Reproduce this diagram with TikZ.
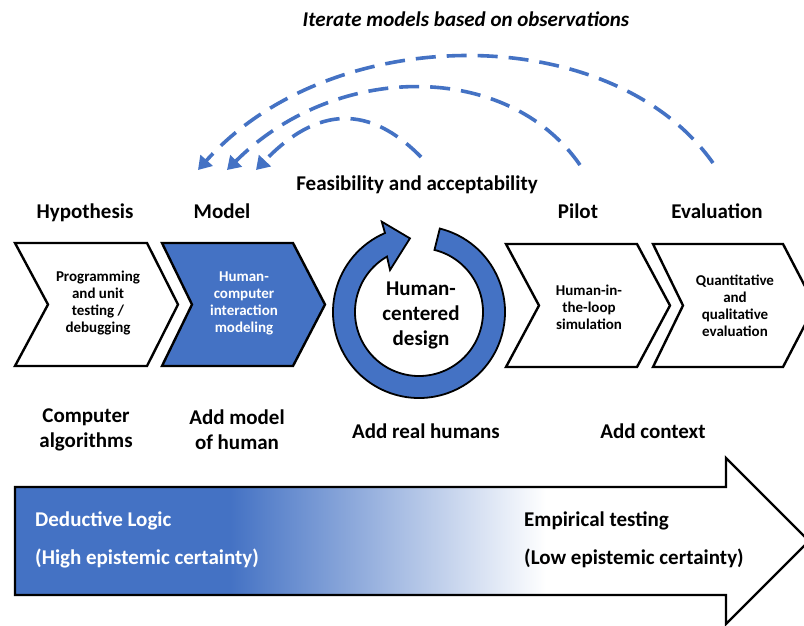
\documentclass[tikz,border=0pt]{standalone}
\usepackage{fontspec}
\setmainfont{Carlito}
\usetikzlibrary{arrows.meta}
\definecolor{hcblue}{RGB}{68,114,196}
\begin{document}
\begin{tikzpicture}[x=1pt,y=-1pt,
  chev/.style={draw=black, line width=2.4pt, line join=miter},
  lbl/.style={font=\fontsize{21}{25}\selectfont\bfseries, inner sep=0pt, align=center},
  small/.style={font=\fontsize{15}{17}\selectfont\bfseries, align=center, inner sep=0pt},
  iter/.style={draw=hcblue, line width=3.6pt, dash pattern=on 20pt off 11pt,
    -{Triangle[length=13pt,width=16pt]}},
]
\useasboundingbox (0,0) rectangle (804,625);
\fill[white] (0,0) rectangle (804,625);
\clip (0,0) rectangle (804,625);

% --- process chevrons ---
\draw[chev, fill=white]  (15,243) -- (147,243) -- (178,304.5) -- (147,366) -- (15,366) -- (48,304.5) -- cycle;
\draw[chev, fill=hcblue] (162,243) -- (293,243) -- (325,304.5) -- (293,366) -- (162,366) -- (192,304.5) -- cycle;
\draw[chev, fill=white]  (506,244) -- (637,244) -- (670,305.5) -- (637,367) -- (506,367) -- (539,305.5) -- cycle;
\draw[chev, fill=white]  (653,244) -- (783,244) -- (815,305.5) -- (783,367) -- (653,367) -- (683,305.5) -- cycle;

\node[small] (c1) at (98,303) {Programming\\and unit\\testing /\\debugging};
\node[small, text=white] (c2) at (244,303) {Human-\\computer\\interaction\\modeling};
\node[small] (c3) at (589,307) {Human-in-\\the-loop\\simulation};
\node[small] (c4) at (735,306) {Quantitative\\and\\qualitative\\evaluation};

% --- circular arrow ---
\begin{scope}[shift={(419,312)}]
  \filldraw[fill=hcblue, draw=black, line width=1.8pt, line join=miter]
    (-76:86) arc[start angle=-76, end angle=246.7, radius=86]
    -- (247.6:97.7) -- (263:74.2) -- (235.4:51) -- (240:64)
    arc[start angle=240, end angle=-76, radius=64] -- cycle;
\end{scope}
\node[lbl] (hcd) at (421,315) {Human-\\centered\\design};

% --- stage headings ---
\node[lbl, anchor=base] (hyp) at (85,218) {Hypothesis};
\node[lbl, anchor=base] (mod) at (222,218) {Model};
\node[lbl, anchor=base] (pil) at (578,218) {Pilot};
\node[lbl, anchor=base] (eva) at (717,218) {Evaluation};
\node[lbl, anchor=base] (fea) at (417,190) {Feasibility and acceptability};
\node[lbl, anchor=base] (ttl) at (466,26) {\itshape Iterate models based on observations};

% --- what each stage adds ---
\node[lbl] (alg) at (86,430) {Computer\\algorithms};
\node[lbl] (amh) at (237,430) {Add model\\of human};
\node[lbl, anchor=base] (arh) at (426,438) {Add real humans};
\node[lbl, anchor=base] (actx) at (653,438) {Add context};

% --- iteration loops ---
\coordinate (a1s) at (713,163); \coordinate (a1e) at (198,170);
\coordinate (a2s) at (580,165); \coordinate (a2e) at (227,170);
\coordinate (a3s) at (421,157); \coordinate (a3e) at (256,170);
\draw[iter] (a1s) .. controls (612,20) and (332,20) .. (a1e);
\draw[iter] (a2s) .. controls (508,61) and (336,61) .. (a2e);
\draw[iter] (a3s) .. controls (370,105) and (318,105) .. (a3e);

% --- certainty arrow ---
\fill[hcblue] (15,487) rectangle (231,595);
\shade[left color=hcblue, right color=white] (230,487) rectangle (546,595);
\draw[line width=2.4pt, line join=miter]
  (15,487) -- (726,487) -- (726,458) -- (809,541) -- (726,624) -- (726,595) -- (15,595) -- cycle;
\node[lbl, anchor=base west, text=white] (ded) at (35,526) {Deductive Logic};
\node[lbl, anchor=base west, text=white] (hec) at (35,564) {(High epistemic certainty)};
\node[lbl, anchor=base west] (emp) at (524,526) {Empirical testing};
\node[lbl, anchor=base west] (lec) at (524,564) {(Low epistemic certainty)};
\end{tikzpicture}
\end{document}
